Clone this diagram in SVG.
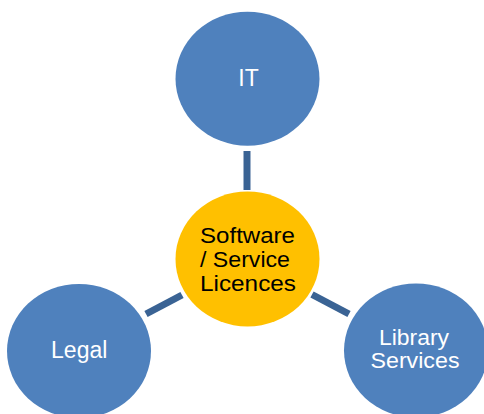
<svg xmlns="http://www.w3.org/2000/svg" width="484" height="414" viewBox="0 0 484 414">
<style>
.blue{fill:#4F81BD}
.gold{fill:#FFC000}
.conn{stroke:#3A6394;stroke-width:7;fill:none}
.lbl{font-family:"Liberation Sans",Arial,sans-serif;font-size:23px;fill:#FFFFFF;text-anchor:middle}
.lbl2{font-family:"Liberation Sans",Arial,sans-serif;font-size:21.5px;fill:#FFFFFF;text-anchor:middle}
.ctr{font-family:"Liberation Sans",Arial,sans-serif;font-size:22px;fill:#000000;text-anchor:middle}
</style>
<rect width="484" height="414" fill="#FFFFFF"/>
<g id="connectors">
<line class="conn" x1="247" y1="151" x2="247" y2="190"/>
<line class="conn" x1="146" y1="314" x2="182" y2="295"/>
<line class="conn" x1="312" y1="294.5" x2="349" y2="314"/>
</g>
<g id="it">
<ellipse class="blue" cx="247.5" cy="78.7" rx="72" ry="67"/>
<text class="lbl" x="248.5" y="86">IT</text>
</g>
<g id="center">
<ellipse class="gold" cx="247.5" cy="259" rx="72" ry="67.5"/>
<text class="ctr" x="247.5" y="242.7" textLength="95" lengthAdjust="spacingAndGlyphs">Software</text>
<text class="ctr" x="245" y="266.5" textLength="90" lengthAdjust="spacingAndGlyphs">/ Service</text>
<text class="ctr" x="248" y="290.7" textLength="96" lengthAdjust="spacingAndGlyphs">Licences</text>
</g>
<g id="legal">
<ellipse class="blue" cx="79" cy="351" rx="72" ry="67"/>
<text class="lbl" x="79.2" y="358.3">Legal</text>
</g>
<g id="library">
<ellipse class="blue" cx="416" cy="350.5" rx="72" ry="67"/>
<text class="lbl2" x="414" y="344.5" textLength="70" lengthAdjust="spacingAndGlyphs">Library</text>
<text class="lbl2" x="415" y="368" textLength="89" lengthAdjust="spacingAndGlyphs">Services</text>
</g>
</svg>
